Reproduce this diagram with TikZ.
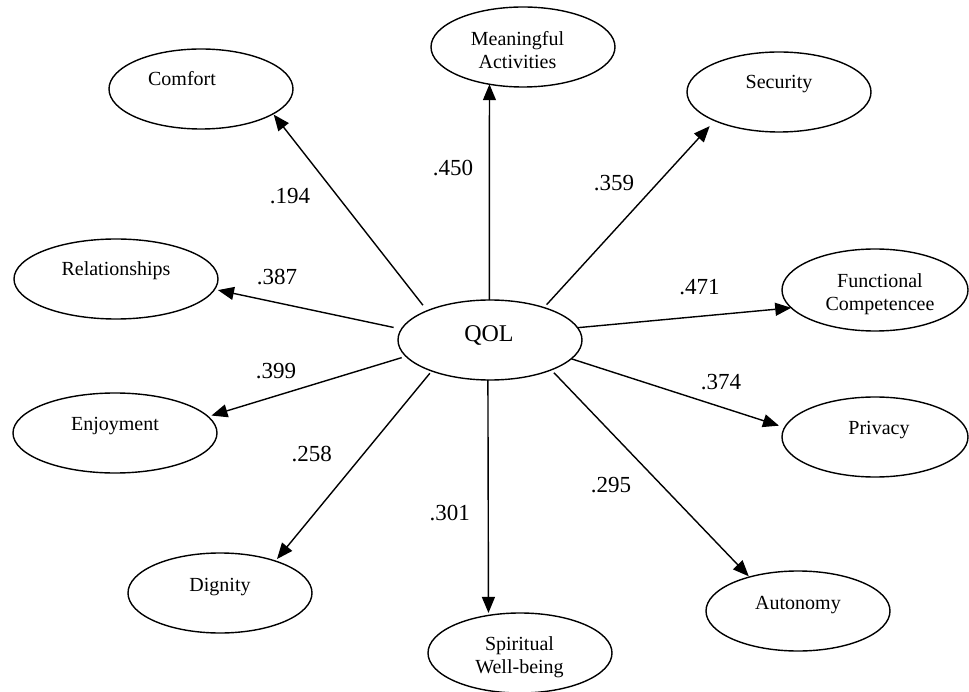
\documentclass[tikz,border=0pt]{standalone}
\usepackage{fontspec}
\setmainfont{Liberation Serif}
\usetikzlibrary{shapes.geometric,arrows.meta}
\begin{document}
\begin{tikzpicture}[x=1pt,y=-1pt,
  ell/.style={draw, ellipse, line width=1.4pt, inner sep=0pt, outer sep=0pt,
              minimum width=184pt, minimum height=80pt},
  widell/.style={minimum width=204pt},
  lbl/.style={anchor=base, font=\fontsize{20}{23}\selectfont, inner sep=0pt},
  lbltwo/.style={anchor=center, align=center, font=\fontsize{20}{23}\selectfont, inner sep=0pt},
  coef/.style={anchor=base, font=\fontsize{23}{25}\selectfont, inner sep=0pt},
  arr/.style={line width=1.4pt, -{Triangle[length=16pt,width=13pt]}}]
\useasboundingbox (0,0) rectangle (969,692);

% ellipses
\node[ell] (qol) at (490,340) {};
\node[ell] (meaningful) at (523,47) {};
\node[ell] (comfort) at (201,89) {};
\node[ell] (security) at (779,92) {};
\node[ell, widell] (relationships) at (116,279) {};
\node[ell, minimum width=186pt, minimum height=82pt] (functional) at (875,290) {};
\node[ell, widell] (enjoyment) at (115,433) {};
\node[ell, minimum width=186pt] (privacy) at (875,437) {};
\node[ell] (dignity) at (220,593) {};
\node[ell] (spiritual) at (520,653) {};
\node[ell] (autonomy) at (798,611) {};

% texts
\node[anchor=base, font=\fontsize{24}{26}\selectfont, inner sep=0pt] (qol-t) at (489,342) {QOL};
\node[lbltwo] (meaningful-t) at (517.5,49.7) {Meaningful\\Activities};
\node[lbl] (comfort-t) at (182,86) {Comfort};
\node[lbl] (security-t) at (779,89) {Security};
\node[lbl] (relationships-t) at (116,276) {Relationships};
\node[lbltwo] (functional-t) at (880,294.3) {Functional\\Competencee};
\node[lbl] (enjoyment-t) at (115,430) {Enjoyment};
\node[lbl] (privacy-t) at (879,434) {Privacy};
\node[lbl] (dignity-t) at (220,591) {Dignity};
\node[lbltwo] (spiritual-t) at (519.5,657.3) {Spiritual\\Well-being};
\node[lbl] (autonomy-t) at (798,609) {Autonomy};

% connectors
\draw[arr, shorten <=7pt, shorten >=1pt] (qol.155) -- (comfort.341);
\draw[arr] (qol.91) -- (meaningful.228);
\draw[arr, shorten <=4pt, shorten >=7.5pt] (qol.31) -- (security.204);
\draw[arr] (qol.8) -- (functional.192);
\draw[arr, shorten >=6pt] (qol.347) -- (privacy.174);
\draw[arr, shorten <=4pt, shorten >=1pt] (qol.334) -- (autonomy.145);
\draw[arr, shorten >=2.5pt] (qol.267) -- (spiritual.130);
\draw[arr, shorten <=3pt, shorten >=2.6pt] (qol.208) -- (dignity.30);
\draw[arr, shorten <=4.5pt, shorten >=3.6pt] (qol.191) -- (enjoyment.10);
\draw[arr, shorten <=8pt, shorten >=3.5pt] (qol.173) -- (relationships.354);

% coefficients
\node[coef] (c-meaningful) at (453,176) {.450};
\node[coef] (c-comfort) at (290,204) {.194};
\node[coef] (c-security) at (614,191) {.359};
\node[coef] (c-functional) at (699.5,295) {.471};
\node[coef] (c-relationships) at (277,285) {.387};
\node[coef] (c-enjoyment) at (276,379) {.399};
\node[coef] (c-privacy) at (721,389) {.374};
\node[coef] (c-dignity) at (311.7,461) {.258};
\node[coef] (c-autonomy) at (611,492) {.295};
\node[coef] (c-spiritual) at (449.7,520) {.301};
\end{tikzpicture}
\end{document}
